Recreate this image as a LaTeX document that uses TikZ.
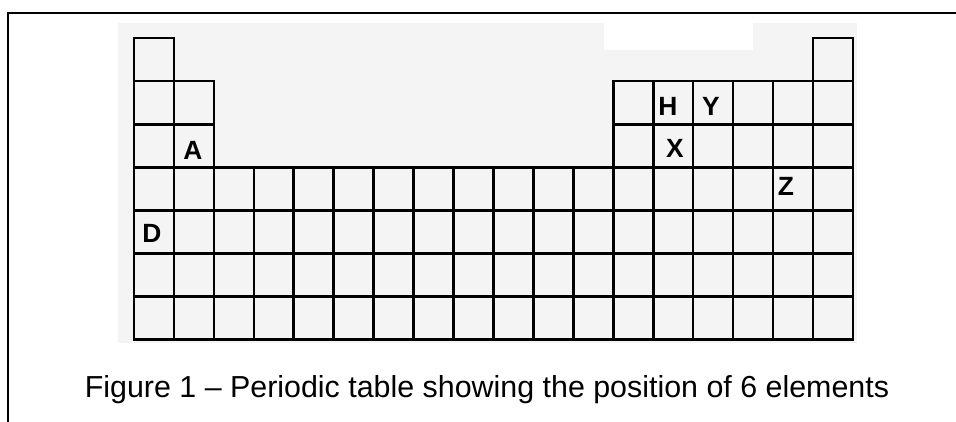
\documentclass[tikz,border=0pt]{standalone}
\usepackage{fontspec}
\setmainfont{Liberation Sans}
\usetikzlibrary{positioning}
\definecolor{cPanel}{RGB}{244,244,244}
\newcommand{\cw}{39.94}
\newcommand{\ch}{43.1}
\tikzset{
	cell/.style={draw=black, line width=1.5pt, line join=miter},
	elem/.style={font=\bfseries\fontsize{15}{17}\selectfont, inner sep=0pt},
	frameline/.style={line width=1.2pt},
}

\begin{document}
\begin{tikzpicture}[x=0.02cm, y=-0.02cm]
	\useasboundingbox (0,0) rectangle (956,422);
	\draw[frameline] (8,422) -- (8,13) -- (956,13);
	\fill[cPanel] (118,23) rectangle (857,343);
	\fill[white] (604,23) rectangle (753,50);
	% table cells, row by row
	\foreach \r/\cols in {1/{1,18}, 2/{1,2,13,14,...,18}, 3/{1,2,13,14,...,18}, 4/{1,...,18}, 5/{1,...,18}, 6/{1,...,18}, 7/{1,...,18}}
		\foreach \c in \cols
			\draw[cell] ({134+(\c-1)*\cw},{38+(\r-1)*\ch}) rectangle +(\cw,\ch);
	% element letters
	\node[elem] (elA) at (193,150) {A};
	\node[elem] (elH) at (668,106) {H};
	\node[elem] (elY) at (711,106) {Y};
	\node[elem] (elX) at (675,148) {X};
	\node[elem] (elZ) at (786,186) {Z};
	\node[elem] (elD) at (152,233) {D};
	\node[font=\fontsize{17.3}{20}\selectfont] (caption) at (487,390) {Figure 1 – Periodic table showing the position of 6 elements};
\end{tikzpicture}
\end{document}
